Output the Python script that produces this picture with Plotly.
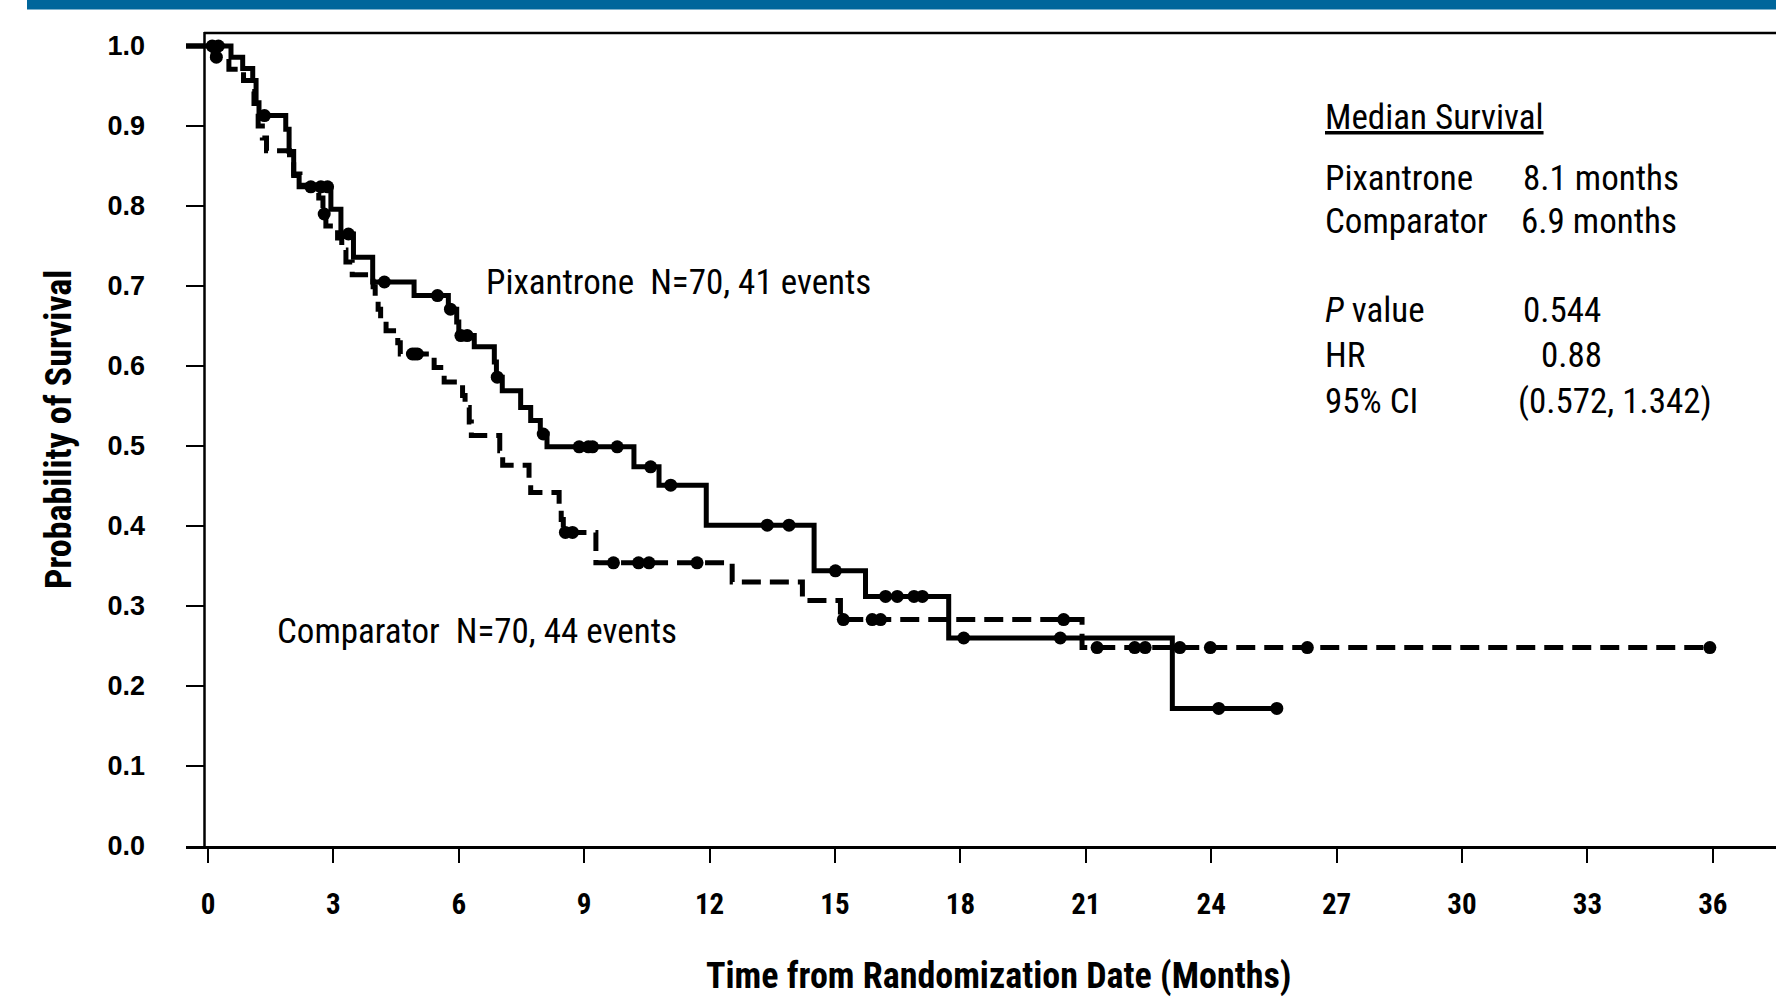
import plotly.graph_objects as go

# ---------------- data ----------------
curve_start = -0.53

pix_times = [0.55, 0.83, 1.07, 1.15, 1.22, 1.86, 1.94, 2.05, 2.18, 2.94, 3.18, 3.48, 3.94, 4.93,
             5.75, 5.95, 6.0, 6.37, 6.85, 6.9, 7.04, 7.48, 7.72, 7.95, 8.11, 10.19, 10.79, 11.92,
             14.5, 15.73, 17.72, 23.07]
pix_surv = [0.986, 0.972, 0.957, 0.929, 0.913, 0.896, 0.868, 0.838, 0.824, 0.796, 0.765, 0.736,
            0.705, 0.688, 0.671, 0.655, 0.638, 0.624, 0.605, 0.586, 0.569, 0.548, 0.532, 0.515,
            0.499, 0.474, 0.451, 0.401, 0.344, 0.312, 0.260, 0.172]
pix_censor = [0.1, 0.25, 1.35, 2.46, 2.7, 2.86, 3.36, 4.22, 5.49, 5.8, 6.05, 6.2, 6.92, 8.02, 8.88,
              9.1, 9.2, 9.79, 10.59, 11.07, 13.38, 13.9, 15.01, 16.21, 16.49, 16.89, 17.09, 18.08,
              20.39, 24.18, 25.57]
pix_end = 25.57

comp_times = [0.12, 0.5, 0.85, 1.05, 1.1, 1.2, 1.3, 1.4, 1.95, 2.05, 2.2, 2.65, 2.75, 2.82, 3.1,
              3.2, 3.3, 3.45, 3.95, 4.0, 4.07, 4.13, 4.26, 4.54, 4.6, 5.41, 5.65, 6.09, 6.15, 6.25,
              6.3, 6.98, 7.05, 7.68, 7.72, 8.4, 8.45, 8.5, 9.28, 12.54, 14.22, 15.13, 20.91]
comp_surv = [0.986, 0.971, 0.957, 0.943, 0.928, 0.9, 0.885, 0.869, 0.855, 0.84, 0.826, 0.81, 0.79,
             0.775, 0.76, 0.745, 0.73, 0.714, 0.699, 0.685, 0.671, 0.657, 0.644, 0.629, 0.615,
             0.598, 0.58, 0.563, 0.548, 0.53, 0.513, 0.494, 0.476, 0.459, 0.442, 0.425, 0.408,
             0.392, 0.354, 0.33, 0.307, 0.283, 0.248]
comp_censor = [0.2, 2.78, 4.89, 4.95, 5.01, 8.55, 8.72, 9.7, 10.3, 10.55, 11.7, 15.2, 15.89, 16.09,
               20.47, 21.27, 22.17, 22.42, 23.25, 23.98, 26.3, 35.93]
comp_end = 35.93

x_ticks = [0, 3, 6, 9, 12, 15, 18, 21, 24, 27, 30, 33, 36]
y_ticks = [0.0, 0.1, 0.2, 0.3, 0.4, 0.5, 0.6, 0.7, 0.8, 0.9, 1.0]

stats_labels = ["Pixantrone", "Comparator", "<i>P</i> value", "HR", "95% CI"]
stats_values = ["8.1 months", "6.9 months", "0.544", "0.88", "(0.572, 1.342)"]

# ---------------- helpers ----------------
def step_xy(times, surv, end):
    xs = [curve_start] + list(times) + [end]
    ys = [1.0] + list(surv) + [surv[-1]]
    return xs, ys

def surv_at(t, times, surv):
    val = 1.0
    for ti, si in zip(times, surv):
        if ti <= t:
            val = si
    return val

# body margin is removed by post_script, so the figure fills the window exactly
SW, SH = 1776, 998
W, H = SW, SH
S_LEFT, S_RIGHT, S_TOP, S_BOTTOM = 186, SW, 33, 846
L, R, T, B = S_LEFT, 0, S_TOP, H - S_BOTTOM
PW, PH = W - L - R, H - T - B

def pxx(px):
    return (px - S_LEFT) / PW

def pxy(py):
    return (S_BOTTOM - py) / PH

NARROW = "Liberation Sans Narrow, Arial Narrow, Roboto Condensed, DejaVu Sans Condensed, sans-serif"
REG = "Liberation Sans, Arial, sans-serif"
TXT = 35

fig = go.Figure()

px_, py_ = step_xy(pix_times, pix_surv, pix_end)
cx_, cy_ = step_xy(comp_times, comp_surv, comp_end)

fig.add_trace(go.Scatter(x=cx_, y=cy_, mode="lines", line=dict(shape="hv", color="black", width=5,
                                                               dash="19px,9px"),
                         showlegend=False, hoverinfo="skip"))
fig.add_trace(go.Scatter(x=px_, y=py_, mode="lines", line=dict(shape="hv", color="black", width=5),
                         showlegend=False, hoverinfo="skip"))
fig.add_trace(go.Scatter(x=comp_censor, y=[surv_at(t, comp_times, comp_surv) for t in comp_censor],
                         mode="markers", marker=dict(color="black", size=13, symbol="circle"),
                         showlegend=False))
fig.add_trace(go.Scatter(x=pix_censor, y=[surv_at(t, pix_times, pix_surv) for t in pix_censor],
                         mode="markers", marker=dict(color="black", size=13, symbol="circle"),
                         showlegend=False))

# axis ranges: 41.8 px per month, month 0 at x=208; 800 px per 1.0, 0 at y=846
x0 = (S_LEFT - 208) / 41.8
x1 = (S_RIGHT - 208) / 41.8
y1 = PH / 800.0

fig.update_xaxes(range=[x0, x1], tickvals=x_ticks, ticktext=[str(v) for v in x_ticks],
                 showline=True, linecolor="black", linewidth=2.5, mirror=False,
                 ticks="outside", ticklen=14, tickwidth=2, tickcolor="black",
                 showgrid=False, zeroline=False, automargin=False,
                 tickfont=dict(family=NARROW, size=29, color="black", weight="bold"),
                 ticklabelstandoff=16)
fig.update_yaxes(range=[0, y1], tickvals=y_ticks, ticktext=["%.1f" % v for v in y_ticks],
                 showline=False, ticks="inside", ticklen=18, tickwidth=2, tickcolor="black",
                 showgrid=False, zeroline=False, automargin=False,
                 tickfont=dict(family=REG, size=27, color="black", weight="bold"),
                 ticklabelstandoff=40)

shapes = [
    # blue header bar
    dict(type="rect", xref="paper", yref="paper", x0=pxx(27), x1=pxx(SW + 5), y0=pxy(9.5), y1=pxy(-5),
         fillcolor="#00669B", line=dict(width=0), layer="above"),
    # top frame line
    dict(type="line", xref="paper", yref="paper", x0=pxx(204), x1=pxx(SW + 5), y0=pxy(33), y1=pxy(33),
         line=dict(color="black", width=2.5)),
    # y axis line
    dict(type="line", xref="paper", yref="paper", x0=pxx(204.5), x1=pxx(204.5), y0=pxy(846), y1=pxy(32),
         line=dict(color="black", width=2.5)),
]

ann = []
# axis titles
ann.append(dict(x=pxx(998), y=pxy(976), xref="paper", yref="paper", xanchor="center", yanchor="middle",
                text="<b>Time from Randomization Date (Months)</b>", showarrow=False,
                font=dict(family=NARROW, size=36, color="black")))
ann.append(dict(x=pxx(59), y=pxy(430), xref="paper", yref="paper", xanchor="center", yanchor="middle",
                text="<b>Probability of Survival</b>", showarrow=False, textangle=-90,
                font=dict(family=NARROW, size=36, color="black")))
# curve labels
ann.append(dict(x=(484 - 208) / 41.8, y=(845.5 - 282) / 800, xref="x", yref="y", xanchor="left",
                yanchor="middle", text="Pixantrone  N=70, 41 events", showarrow=False,
                font=dict(family=NARROW, size=TXT, color="black")))
ann.append(dict(x=(275 - 208) / 41.8, y=(845.5 - 631) / 800, xref="x", yref="y", xanchor="left",
                yanchor="middle", text="Comparator  N=70, 44 events", showarrow=False,
                font=dict(family=NARROW, size=TXT, color="black")))
# stats block
ann.append(dict(x=pxx(1323), y=pxy(117), xref="paper", yref="paper", xanchor="left", yanchor="middle",
                text="<u>Median Survival</u>", showarrow=False,
                font=dict(family=NARROW, size=TXT, color="black")))
label_y = [178, 222, 310, 356, 401]
value_x = [1521, 1519, 1521, 1539, 1516]
for lab, val, yy, vx in zip(stats_labels, stats_values, label_y, value_x):
    ann.append(dict(x=pxx(1323), y=pxy(yy), xref="paper", yref="paper", xanchor="left",
                    yanchor="middle", text=lab, showarrow=False,
                    font=dict(family=NARROW, size=TXT, color="black")))
    ann.append(dict(x=pxx(vx), y=pxy(yy), xref="paper", yref="paper", xanchor="left",
                    yanchor="middle", text=val, showarrow=False,
                    font=dict(family=NARROW, size=TXT, color="black")))

fig.update_layout(width=W, height=H, margin=dict(l=L, r=R, t=T, b=B, pad=0),
                  plot_bgcolor="white", paper_bgcolor="white", shapes=shapes, annotations=ann,
                  showlegend=False)

fig.write_html("out.html", config={"displayModeBar": False},
               post_script="document.body.style.margin='0';document.body.style.overflow='hidden';")
